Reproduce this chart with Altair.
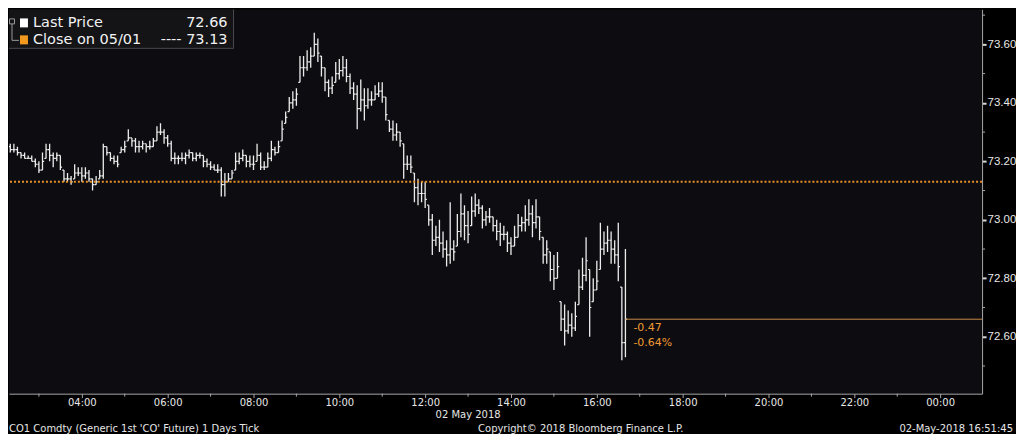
import altair as alt
import pandas as pd

# ---- data (CO1 Comdty, 2 May 2018, 5-minute bars from 02:10) ----
first_bar = "02:10"
bar_minutes = 5
high = [73.29, 73.28, 73.26, 73.26, 73.25, 73.23, 73.23, 73.22, 73.22, 73.21,
        73.20, 73.23, 73.26, 73.26, 73.23, 73.23, 73.22, 73.17, 73.16, 73.15,
        73.19, 73.18, 73.18, 73.18, 73.17, 73.14, 73.15, 73.17, 73.26, 73.25,
        73.23, 73.22, 73.22, 73.25, 73.27, 73.31, 73.28, 73.28, 73.27, 73.27,
        73.26, 73.27, 73.28, 73.32, 73.33, 73.31, 73.29, 73.27, 73.23, 73.22,
        73.23, 73.23, 73.24, 73.23, 73.23, 73.23, 73.22, 73.21, 73.20, 73.19,
        73.19, 73.18, 73.16, 73.16, 73.17, 73.23, 73.23, 73.24, 73.22, 73.22,
        73.22, 73.26, 73.23, 73.20, 73.23, 73.27, 73.25, 73.27, 73.34, 73.37,
        73.42, 73.44, 73.45, 73.56, 73.56, 73.58, 73.59, 73.64, 73.62, 73.56,
        73.52, 73.48, 73.49, 73.54, 73.55, 73.56, 73.55, 73.50, 73.47, 73.46,
        73.48, 73.45, 73.45, 73.44, 73.46, 73.47, 73.47, 73.42, 73.34, 73.34,
        73.33, 73.30, 73.26, 73.22, 73.22, 73.16, 73.14, 73.13, 73.13, 73.05,
        73.02, 72.98, 73.00, 72.96, 72.93, 73.06, 72.93, 73.02, 73.09, 73.05,
        73.03, 73.08, 73.09, 73.07, 73.05, 73.03, 73.04, 73.01, 73.00, 72.99,
        72.98, 72.96, 72.94, 72.98, 73.02, 73.01, 73.05, 73.07, 73.05, 73.07,
        73.01, 72.94, 72.93, 72.89, 72.88, 72.89, 72.72, 72.71, 72.69, 72.68,
        72.72, 72.83, 72.87, 72.94, 72.83, 72.80, 72.86, 72.99, 72.96, 72.98,
        72.96, 72.93, 72.99, 72.77, 72.90]
low = [73.27, 73.24, 73.23, 73.23, 73.22, 73.21, 73.21, 73.21, 73.20, 73.18,
       73.16, 73.17, 73.21, 73.20, 73.18, 73.20, 73.17, 73.13, 73.13, 73.12,
       73.14, 73.15, 73.13, 73.14, 73.13, 73.10, 73.12, 73.14, 73.14, 73.22,
       73.20, 73.19, 73.18, 73.23, 73.23, 73.27, 73.25, 73.23, 73.23, 73.24,
       73.23, 73.24, 73.25, 73.27, 73.29, 73.26, 73.25, 73.20, 73.19, 73.19,
       73.20, 73.19, 73.21, 73.20, 73.20, 73.21, 73.18, 73.18, 73.17, 73.17,
       73.16, 73.08, 73.08, 73.13, 73.14, 73.17, 73.19, 73.20, 73.18, 73.18,
       73.17, 73.20, 73.17, 73.17, 73.18, 73.20, 73.22, 73.23, 73.27, 73.33,
       73.37, 73.38, 73.39, 73.47, 73.49, 73.51, 73.52, 73.56, 73.54, 73.49,
       73.44, 73.42, 73.43, 73.47, 73.48, 73.49, 73.47, 73.43, 73.41, 73.31,
       73.37, 73.34, 73.38, 73.39, 73.41, 73.42, 73.40, 73.34, 73.30, 73.27,
       73.27, 73.25, 73.14, 73.17, 73.16, 73.06, 73.05, 73.06, 73.04, 72.98,
       72.88, 72.91, 72.89, 72.87, 72.84, 72.85, 72.86, 72.91, 72.94, 72.93,
       72.92, 72.98, 73.01, 73.02, 72.97, 72.98, 72.99, 72.96, 72.93, 72.91,
       72.93, 72.89, 72.88, 72.91, 72.94, 72.96, 72.96, 72.98, 72.94, 72.97,
       72.93, 72.85, 72.85, 72.79, 72.76, 72.80, 72.62, 72.57, 72.61, 72.60,
       72.62, 72.71, 72.76, 72.79, 72.60, 72.72, 72.76, 72.83, 72.88, 72.89,
       72.85, 72.85, 72.79, 72.52, 72.53]
close = [73.28, 73.25, 73.24, 73.24, 73.23, 73.22, 73.21, 73.21, 73.20, 73.19,
         73.17, 73.20, 73.24, 73.22, 73.21, 73.22, 73.18, 73.14, 73.14, 73.13,
         73.16, 73.16, 73.15, 73.16, 73.14, 73.12, 73.13, 73.15, 73.25, 73.23,
         73.21, 73.20, 73.19, 73.24, 73.25, 73.28, 73.27, 73.25, 73.25, 73.26,
         73.25, 73.25, 73.27, 73.30, 73.30, 73.28, 73.26, 73.21, 73.21, 73.21,
         73.21, 73.22, 73.23, 73.21, 73.22, 73.22, 73.20, 73.19, 73.18, 73.17,
         73.17, 73.12, 73.13, 73.14, 73.16, 73.20, 73.21, 73.22, 73.20, 73.19,
         73.19, 73.22, 73.18, 73.18, 73.21, 73.24, 73.23, 73.25, 73.31, 73.35,
         73.40, 73.41, 73.43, 73.52, 73.52, 73.54, 73.56, 73.60, 73.57, 73.52,
         73.47, 73.45, 73.46, 73.50, 73.51, 73.52, 73.49, 73.45, 73.43, 73.38,
         73.41, 73.39, 73.41, 73.41, 73.43, 73.44, 73.42, 73.36, 73.31, 73.29,
         73.30, 73.27, 73.19, 73.19, 73.18, 73.11, 73.09, 73.09, 73.07, 73.00,
         72.93, 72.94, 72.92, 72.90, 72.88, 72.90, 72.89, 72.96, 73.02, 72.98,
         72.95, 73.03, 73.05, 73.04, 73.00, 73.01, 73.01, 72.98, 72.96, 72.95,
         72.95, 72.92, 72.91, 72.94, 72.98, 72.99, 73.00, 73.02, 72.99, 73.01,
         72.96, 72.88, 72.90, 72.83, 72.80, 72.84, 72.66, 72.62, 72.64, 72.63,
         72.67, 72.77, 72.81, 72.86, 72.70, 72.76, 72.79, 72.90, 72.92, 72.93,
         72.90, 72.88, 72.84, 72.58, 72.66]

last_price = 72.66
prev_close = 73.13
net_change = "-0.47"
pct_change = "-0.64%"
x_major = [4, 6, 8, 10, 12, 14, 16, 18, 20, 22, 24]
x_minor = [3, 5, 7, 9, 11, 13, 15, 17, 19, 21, 23]
y_major = [72.6, 72.8, 73.0, 73.2, 73.4, 73.6]
y_minor = [72.5, 72.7, 72.9, 73.1, 73.3, 73.5, 73.7]

# ---- table ----
h0, m0 = map(int, first_bar.split(":"))
hours = [h0 + (m0 + bar_minutes * i) / 60 for i in range(len(close))]
opens = [close[0]] + close[:-1]
opens = [max(lo, min(hi, o)) for o, lo, hi in zip(opens, low, high)]
df = pd.DataFrame({"hour": hours, "high": high, "low": low, "close": close, "open": opens})

W, H = 975, 385
ORANGE = "#ef9a32"
FONT = "DejaVu Sans"
AXFONT = "Liberation Sans"
BAR = "#ececec"
AXC = "#a8a8a8"

xscale = alt.Scale(domain=[2.303, 24.977], nice=False, zero=False)
yscale = alt.Scale(domain=[72.4054, 73.7195], nice=False, zero=False)

xaxis = alt.Axis(values=x_major, grid=False, title=None,
                 labelExpr="((datum.value % 24) < 10 ? '0' : '') + (datum.value % 24) + ':00'",
                 domainColor=AXC, tickColor=AXC, tickSize=4,
                 labelColor="#e8e8e8", labelFont=FONT, labelFontSize=10,
                 labelPadding=0, labelFlush=False, labelOverlap=False)
yaxis = alt.Axis(orient="right", values=y_major, format=".2f", grid=False, title=None,
                 domainColor=AXC, tickColor="#d8d8d8", tickSize=4, tickWidth=2,
                 labelColor="#e8e8e8", labelFont=AXFONT, labelFontSize=11.5,
                 labelPadding=1, labelFlush=False, labelOverlap=False)

base = alt.Chart(df)
bars = base.mark_rule(color=BAR, strokeWidth=1.3, clip=True).encode(
    x=alt.X("hour:Q", scale=xscale, axis=xaxis),
    y=alt.Y("low:Q", scale=yscale, axis=yaxis),
    y2="high:Q",
)
close_ticks = base.mark_rule(color=BAR, strokeWidth=1.2, x2Offset=1.7, clip=True).encode(
    x="hour:Q", x2="hour:Q", y="close:Q")
open_ticks = base.mark_rule(color=BAR, strokeWidth=1.2, xOffset=-1.7, clip=True).encode(
    x="hour:Q", x2="hour:Q", y="open:Q")

xminor = alt.Chart(pd.DataFrame({"v": x_minor})).mark_rule(color=AXC).encode(
    x="v:Q", y=alt.value(H), y2=alt.value(H + 3))
yminor = alt.Chart(pd.DataFrame({"v": y_minor})).mark_rule(color=AXC).encode(
    y="v:Q", x=alt.value(W), x2=alt.value(W + 3))

one = pd.DataFrame({"k": [0]})
prev_df = pd.DataFrame({"p": [prev_close]})
last_df = pd.DataFrame({"t": [hours[-1]], "p": [last_price],
                        "c": [net_change], "pc": [pct_change]})

close_line = alt.Chart(prev_df).mark_rule(color="#e8902a", strokeWidth=2, strokeDash=[2, 2]).encode(
    y=alt.Y("p:Q"))
last_line = alt.Chart(last_df).mark_rule(color="#c98a45", strokeWidth=1).encode(
    x="t:Q", x2=alt.value(W), y="p:Q")
chg1 = alt.Chart(last_df).mark_text(color=ORANGE, font=FONT, fontSize=11, align="left",
                                    baseline="middle", dx=8, dy=9).encode(x="t:Q", y="p:Q", text="c:N")
chg2 = alt.Chart(last_df).mark_text(color=ORANGE, font=FONT, fontSize=11, align="left",
                                    baseline="middle", dx=8, dy=24).encode(x="t:Q", y="p:Q", text="pc:N")

# legend box (top-left)
c1 = alt.Chart(one)
leg_box = c1.mark_rect(fill="#141417").encode(x=alt.value(0), x2=alt.value(225), y=alt.value(0), y2=alt.value(39))
leg_r = c1.mark_rule(color="#4a4a4e").encode(x=alt.value(225), y=alt.value(0), y2=alt.value(39))
leg_b = c1.mark_rule(color="#4a4a4e").encode(x=alt.value(0), x2=alt.value(225), y=alt.value(39))
sq1 = c1.mark_rect(fill="#ffffff").encode(x=alt.value(11), x2=alt.value(19), y=alt.value(9), y2=alt.value(18))
sq2 = c1.mark_rect(fill="#f39a1e").encode(x=alt.value(11), x2=alt.value(19), y=alt.value(26), y2=alt.value(35))
icon = c1.mark_rect(fill="#141417", stroke="#9a9a9a", strokeWidth=1).encode(
    x=alt.value(0.5), x2=alt.value(5.5), y=alt.value(9.5), y2=alt.value(14.5))
icon_v = c1.mark_rule(color="#9a9a9a").encode(x=alt.value(3), y=alt.value(14.5), y2=alt.value(31))
icon_h = c1.mark_rule(color="#9a9a9a").encode(x=alt.value(3), x2=alt.value(10), y=alt.value(31))
t_style = dict(font=FONT, fontSize=14.5, color="#f2f2f2", baseline="middle")
txt1 = c1.mark_text(align="left", **t_style).encode(x=alt.value(24), y=alt.value(14), text=alt.value("Last Price"))
val1 = c1.mark_text(align="right", **t_style).encode(x=alt.value(219), y=alt.value(14), text=alt.value(f"{last_price:.2f}"))
txt2 = c1.mark_text(align="left", **t_style).encode(x=alt.value(24), y=alt.value(31), text=alt.value("Close on 05/01"))
val2 = c1.mark_text(align="right", **t_style).encode(x=alt.value(219), y=alt.value(31), text=alt.value(f"----  {prev_close:.2f}"))

# footer texts
f_style = dict(font=FONT, fontSize=10, color="#e6e6e6", baseline="middle")
date_lbl = c1.mark_text(align="center", **f_style).encode(x=alt.value(460), y=alt.value(406), text=alt.value("02 May 2018"))
foot1 = c1.mark_text(align="left", **f_style).encode(x=alt.value(0), y=alt.value(420),
                                                     text=alt.value("CO1 Comdty (Generic 1st 'CO' Future) 1 Days  Tick"))
foot2 = c1.mark_text(align="left", **f_style).encode(x=alt.value(470), y=alt.value(420),
                                                     text=alt.value("Copyright\u00a9 2018 Bloomberg Finance L.P."))
foot3 = c1.mark_text(align="right", **f_style).encode(x=alt.value(1006), y=alt.value(420),
                                                      text=alt.value("02-May-2018 16:51:45"))

chart = alt.layer(
    bars, open_ticks, close_ticks, close_line, last_line, chg1, chg2, xminor, yminor,
    leg_box, leg_r, leg_b, icon, icon_v, icon_h, sq1, sq2, txt1, val1, txt2, val2,
    date_lbl, foot1, foot2, foot3,
).properties(width=W, height=H, padding=0, background="#000000").configure_view(
    stroke=None, fill="#0d0c10"
)

chart.save("out.html", embed_options={"renderer": "svg", "actions": False})
